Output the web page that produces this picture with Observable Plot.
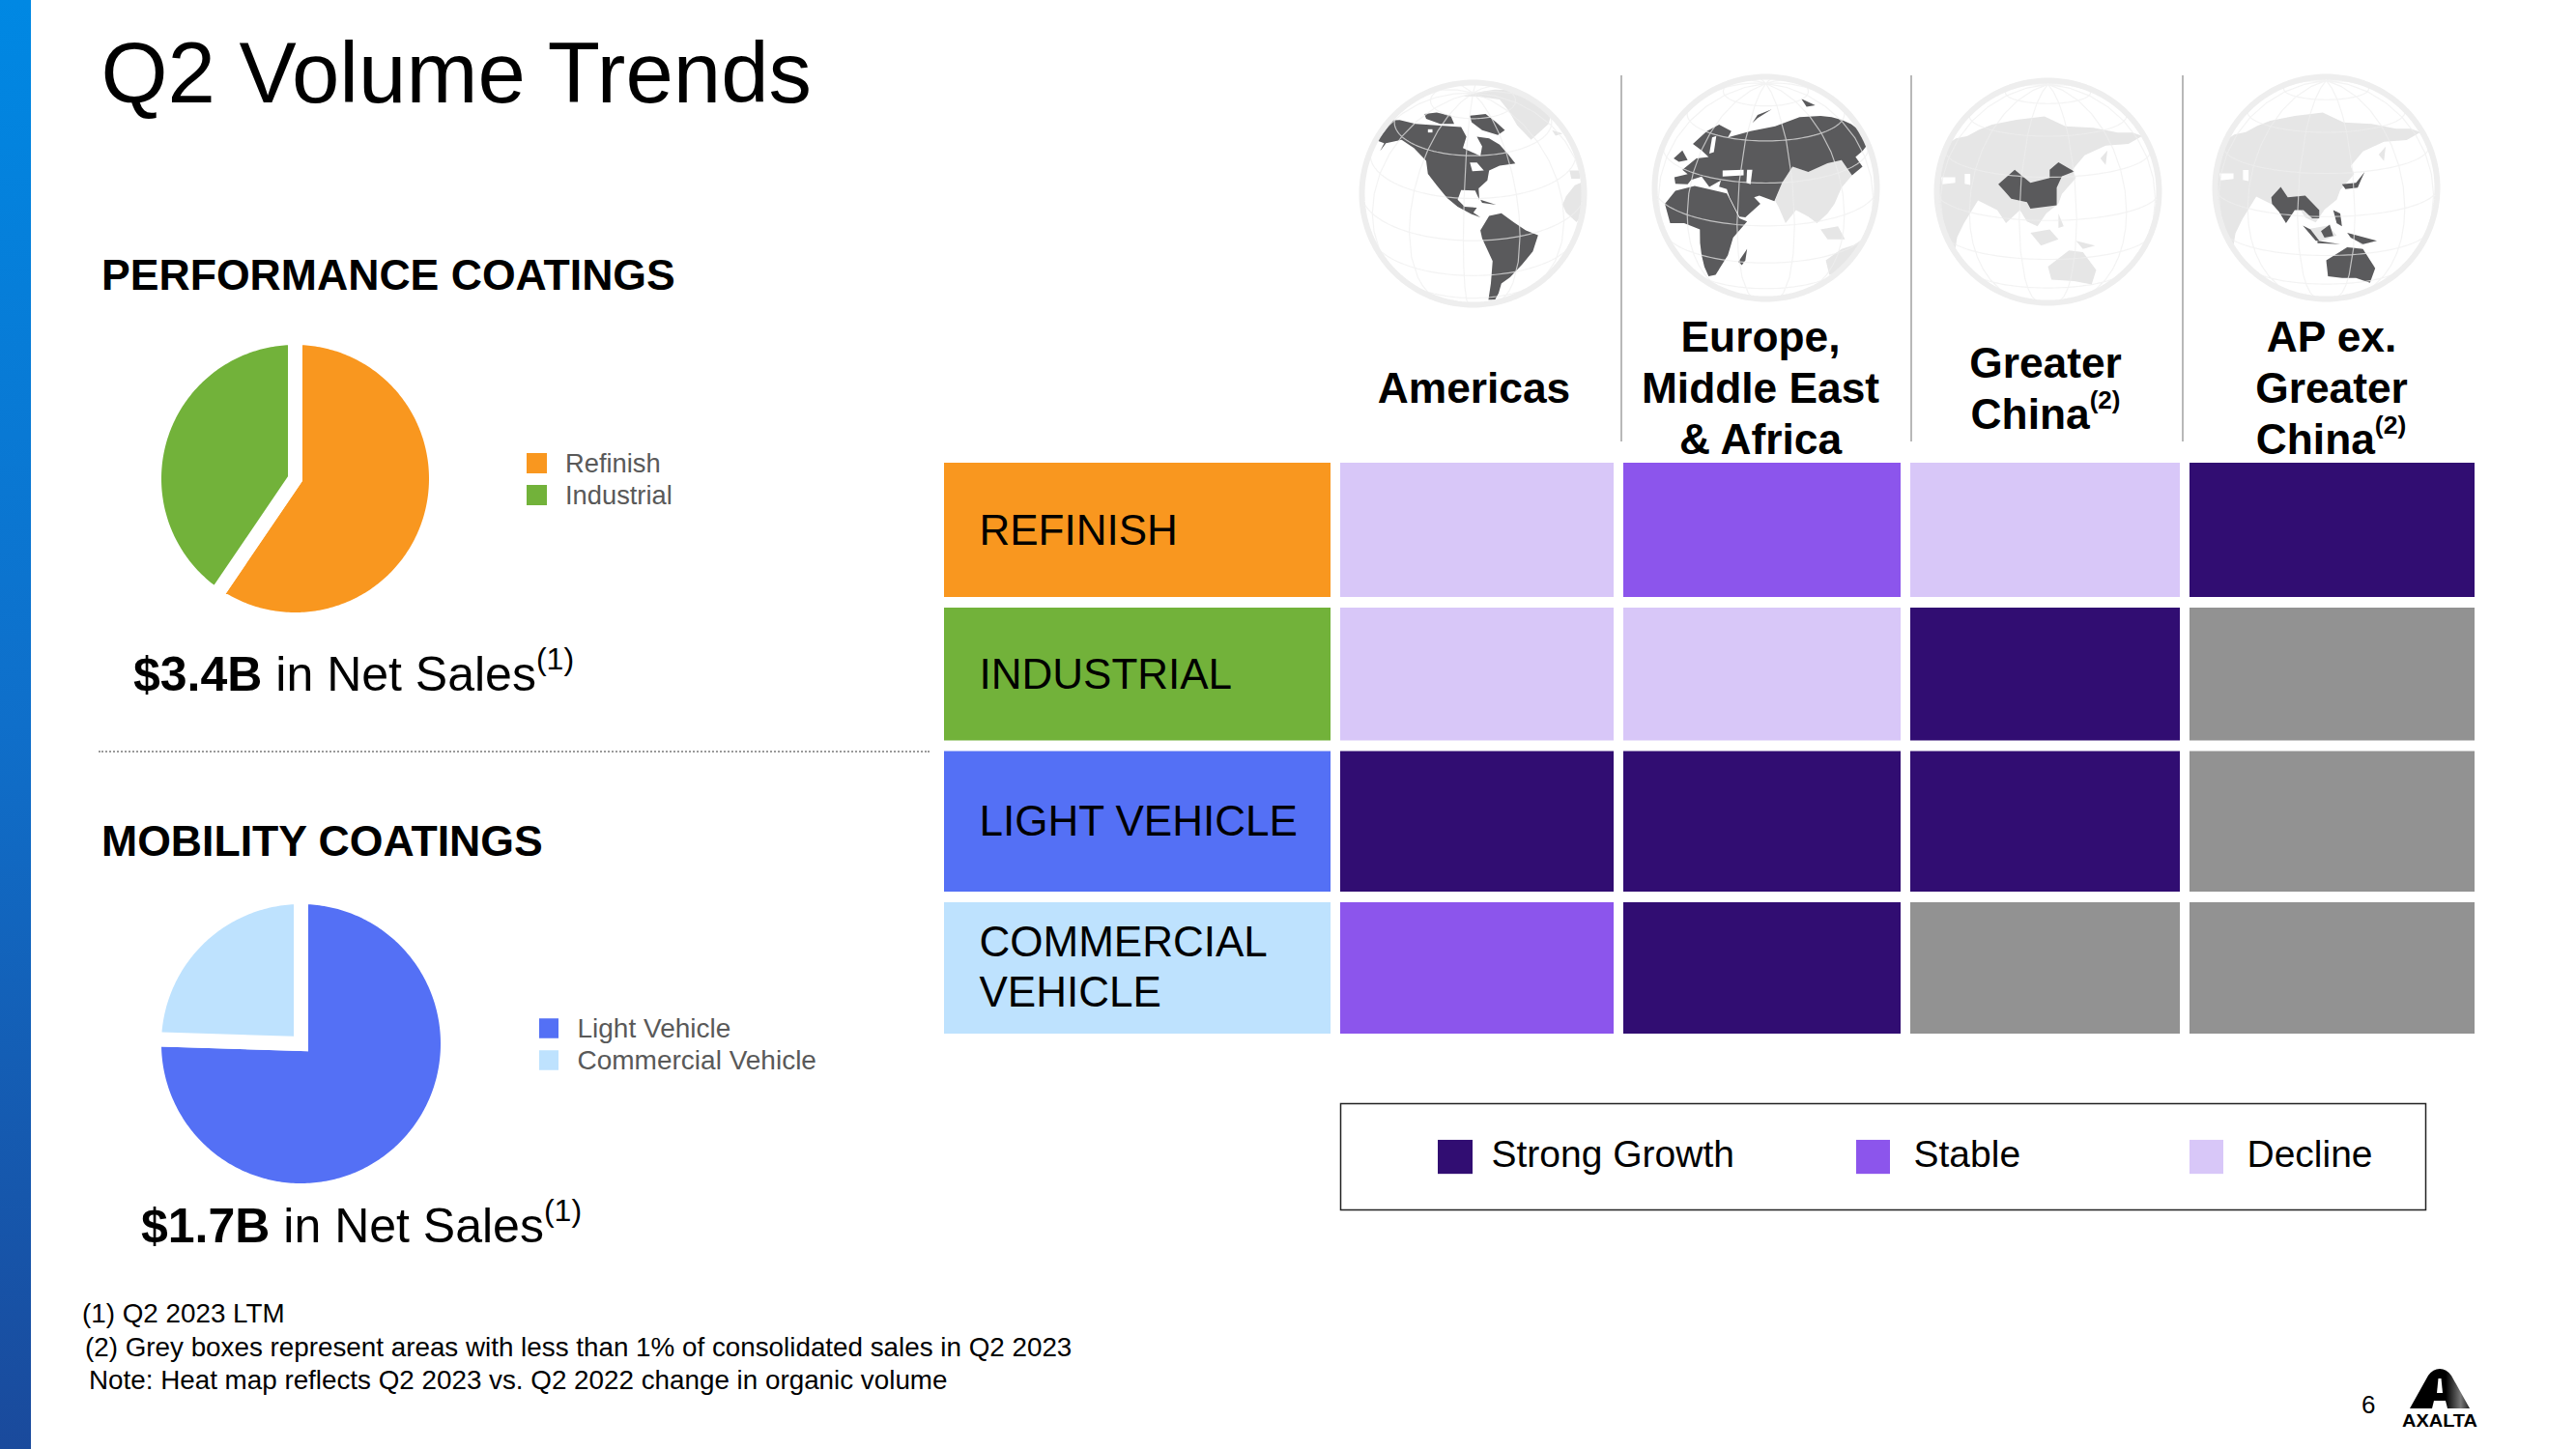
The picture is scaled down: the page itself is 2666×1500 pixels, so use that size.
<!DOCTYPE html>
<html>
<head>
<meta charset="utf-8">
<title>Q2 Volume Trends</title>
<script src="https://cdn.jsdelivr.net/npm/d3@7"></script>
<script src="https://cdn.jsdelivr.net/npm/@observablehq/plot@0.6"></script>
<style>
html,body{margin:0;padding:0;background:#fff;overflow:hidden}
body{width:2666px;height:1500px;position:relative;font-family:"Liberation Sans",Arial,sans-serif;color:#000}
.t{position:absolute;white-space:nowrap;line-height:0}
.p{position:absolute}
.p svg{display:block;background:transparent}
.sup{position:relative}
</style>
</head>
<body>
<script>
// ---------- chart data ----------
const columns = ["Americas", "Europe, Middle East & Africa", "Greater China", "AP ex. Greater China"];
const rows = ["REFINISH", "INDUSTRIAL", "LIGHT VEHICLE", "COMMERCIAL VEHICLE"];
const refinishTrend = ["Decline", "Stable", "Decline", "Strong Growth"];
const industrialTrend = ["Decline", "Decline", "Strong Growth", "Under 1%"];
const lightVehicleTrend = ["Strong Growth", "Strong Growth", "Strong Growth", "Under 1%"];
const commercialVehicleTrend = ["Stable", "Strong Growth", "Under 1%", "Under 1%"];
const trendLegend = ["Strong Growth", "Stable", "Decline"];

const performanceSegments = ["Refinish", "Industrial"];
const performanceShares = [59.5, 40.5];
const mobilitySegments = ["Light Vehicle", "Commercial Vehicle"];
const mobilityShares = [75.5, 24.5];

const footnotes = [
  "(1) Q2 2023 LTM",
  "(2) Grey boxes represent areas with less than 1% of consolidated sales in Q2 2023",
  "Note: Heat map reflects Q2 2023 vs. Q2 2022 change in organic volume"
];

// ---------- colours ----------
const trendNames = ["Strong Growth", "Stable", "Decline", "Under 1%"];
const trendColors = ["#310d72", "#8c55ec", "#d8c7f8", "#929292"];
const segmentNames = ["REFINISH", "INDUSTRIAL", "LIGHT VEHICLE", "COMMERCIAL VEHICLE"];
const segmentColors = ["#f9971f", "#72b23a", "#5470f5", "#bee2fe"];

// ---------- map outlines (picture units per globe) ----------
const americasDark = [
  [[95,255],[130,195],[210,205],[270,210],[340,215],[355,245],[345,280],[395,305],[400,275],[385,245],[420,250],[450,270],[475,300],[495,328],[450,335],[420,350],[415,380],[390,405],[392,440],[380,412],[340,410],[330,440],[350,462],[385,465],[375,480],[395,495],[370,485],[330,462],[300,435],[270,395],[245,360],[240,320],[205,280],[170,255],[125,265],[108,290],[120,265]],
  [[235,175],[270,170],[310,180],[320,205],[280,205],[240,190]],
  [[365,180],[410,175],[440,200],[465,225],[445,240],[400,225],[370,200]],
  [[395,440],[440,456],[400,450]],
  [[420,490],[455,482],[490,510],[525,535],[560,550],[545,600],[515,640],[480,680],[455,700],[437,750],[418,750],[425,700],[430,630],[400,560],[395,535]]
];
const americasLakes = [
  [[365,325],[385,325],[405,350],[372,352]],
  [[245,222],[258,222],[258,232],[245,232]]
];
const americasLight = [
  [[345,120],[400,105],[470,100],[540,125],[600,175],[590,205],[540,255],[500,210],[450,130],[420,125]],
  [[600,225],[630,235],[610,242]],
  [[650,350],[680,350],[680,375],[655,375]],
  [[640,430],[665,395],[690,385],[692,490],[670,510],[640,480],[630,455]]
];
const emeaDark = [
  [[1015,265],[1055,225],[1090,205],[1125,225],[1115,245],[1180,225],[1250,210],[1320,182],[1380,178],[1440,190],[1490,222],[1512,270],[1480,305],[1500,335],[1470,362],[1440,315],[1400,325],[1345,352],[1300,335],[1270,385],[1248,442],[1205,425],[1190,430],[1208,450],[1165,492],[1148,490],[1120,430],[1112,405],[1090,397],[1095,378],[1062,398],[1040,366],[1010,376],[1000,390],[965,388],[962,368],[1000,358],[985,345],[1025,310],[1060,305],[1040,285]],
  [[960,310],[985,285],[1000,315],[975,320]],
  [[1185,200],[1200,175],[1240,158],[1200,185]],
  [[1325,125],[1365,145],[1340,150]],
  [[935,450],[965,410],[1020,395],[1060,405],[1112,418],[1148,495],[1170,505],[1130,555],[1115,610],[1080,670],[1060,675],[1040,610],[1035,530],[990,510],[950,510]],
  [[1145,630],[1170,590],[1165,625],[1155,640]]
];
const emeaLakes = [
  [[1170,345],[1185,345],[1180,390],[1168,385]],
  [[1100,347],[1160,345],[1160,362],[1100,366]],
  [[1070,245],[1082,240],[1075,290],[1062,295]]
];
const emeaLight = [
  [[1250,440],[1270,385],[1300,335],[1345,352],[1400,325],[1440,315],[1470,362],[1440,400],[1420,450],[1400,480],[1370,510],[1345,490],[1310,470],[1280,510],[1260,460]],
  [[1380,530],[1430,520],[1450,560],[1400,560]],
  [[1395,625],[1440,590],[1500,560],[1480,620],[1430,670],[1405,670]]
];
const asiaLight = [
  [[90,255],[160,240],[230,205],[300,190],[380,180],[440,210],[520,215],[590,230],[660,240],[620,265],[555,270],[495,300],[460,345],[470,370],[430,420],[420,450],[385,480],[360,520],[330,505],[310,470],[270,510],[245,470],[190,440],[150,510],[125,590],[100,540],[70,470],[68,400],[72,340]],
  [[540,310],[560,285],[555,330]],
  [[340,540],[395,530],[420,560],[370,580]],
  [[420,480],[435,520],[420,525]],
  [[470,565],[525,580],[490,590]],
  [[390,645],[450,595],[490,600],[528,655],[515,700],[465,690],[400,685]]
];
const asiaLakes = [
  [[152,358],[168,358],[168,392],[152,388]],
  [[85,368],[125,368],[125,385],[88,390]]
];
const chinaDark = [
  [[248,390],[295,345],[340,385],[395,370],[395,345],[420,322],[465,350],[430,365],[415,400],[415,455],[340,465],[330,445],[285,435],[265,410]]
];
const apDark = [
  [[1038,430],[1065,398],[1085,430],[1135,425],[1175,470],[1175,495],[1155,495],[1130,470],[1105,470],[1080,510],[1060,475],[1040,450]],
  [[1240,390],[1280,385],[1305,352],[1295,375],[1285,400],[1250,405]],
  [[1128,518],[1150,530],[1175,565],[1165,565]],
  [[1170,565],[1235,575],[1170,572]],
  [[1180,535],[1205,515],[1215,550],[1190,555]],
  [[1215,470],[1235,480],[1240,520],[1225,510]],
  [[1255,540],[1340,565],[1300,575],[1265,555]],
  [[1195,625],[1255,585],[1300,590],[1335,650],[1320,695],[1280,680],[1200,675]]
];

// ---------- helpers ----------
const page = document.body;
function text(x, baseline, size, html, extra = "") {
  const d = document.createElement("div");
  d.className = "t";
  d.style.cssText = `left:${x}px;top:${baseline - 0.3465 * size}px;font-size:${size}px;${extra}`;
  d.innerHTML = html;
  page.appendChild(d);
  return d;
}
function centered(x, baseline, size, html, extra = "") {
  return text(x, baseline, size, html, `transform:translateX(-50%);${extra}`);
}
const sup = (s, size, lift) => `<span class="sup" style="font-size:${size}px;top:-${lift}px">${s}</span>`;
function place(node, x, y) {
  const d = document.createElement("div");
  d.className = "p";
  d.style.left = x + "px";
  d.style.top = y + "px";
  d.appendChild(node);
  page.appendChild(d);
}
function box(css) {
  const d = document.createElement("div");
  d.style.cssText = "position:absolute;" + css;
  page.appendChild(d);
}
const plotStyle = {background: "transparent", fontFamily: "'Liberation Sans',Arial,sans-serif", overflow: "visible"};

// ---------- slide furniture ----------
box("left:0;top:0;width:32px;height:1500px;background:linear-gradient(#0088e3,#0f6fca 50%,#1a4a9c)");
text(104.5, 106.5, 88.8, "Q2 Volume Trends");
text(105, 300, 44.6, "PERFORMANCE COATINGS", "font-weight:bold");
text(105, 886.5, 44.6, "MOBILITY COATINGS", "font-weight:bold");
text(138, 715, 50, `<b>$3.4B</b> in Net Sales${sup("(1)", 32, 22)}`);
text(146, 1286, 50, `<b>$1.7B</b> in Net Sales${sup("(1)", 32, 22)}`);
box("left:102px;top:777px;width:860px;border-top:2px dotted #9a9a9a");
text(85, 1369.5, 27.8, footnotes[0]);
text(88, 1404.5, 27.8, footnotes[1]);
text(92, 1438.5, 27.8, footnotes[2]);
text(2444, 1463, 26, "6");

// ---------- pies ----------
function pieOutline(names, values) {
  const pts = [];
  d3.pie().sort(null)(values).forEach((s, i) => {
    pts.push({name: names[i], x: 0, y: 0});
    const steps = Math.ceil((s.endAngle - s.startAngle) * 60);
    for (let k = 0; k <= steps; k++) {
      const a = s.startAngle + (s.endAngle - s.startAngle) * k / steps;
      pts.push({name: names[i], x: Math.sin(a), y: Math.cos(a)});
    }
  });
  return pts;
}
function pie(names, values, colors, radius) {
  const size = 2 * radius + 8;
  return Plot.plot({
    width: size, height: size, margin: 0, style: plotStyle,
    x: {axis: null, domain: [-1, 1], range: [4, size - 4]},
    y: {axis: null, domain: [-1, 1], range: [size - 4, 4]},
    color: {domain: names, range: colors},
    marks: [
      Plot.line(pieOutline(names, values), {
        x: "x", y: "y", z: "name", fill: "name", stroke: "#fff", strokeWidth: 15,
        curve: "linear-closed", strokeLinejoin: "miter", strokeMiterlimit: 10
      })
    ]
  });
}
place(pie(performanceSegments, performanceShares, segmentColors.slice(0, 2), 146), 305 - 150, 495 - 150);
place(pie(mobilitySegments, mobilityShares, segmentColors.slice(2), 152), 311 - 156, 1079.5 - 156);

function pieLegend(names, colors, size, sw, swh, gap, rowStep) {
  const h = rowStep * names.length;
  return Plot.plot({
    width: 420, height: h, margin: 0, style: plotStyle,
    x: {axis: null, domain: [0, 420], range: [0, 420]},
    y: {axis: null, type: "band", domain: names, range: [0, h], padding: 0},
    color: {domain: names, range: colors},
    marks: [
      Plot.cell(names, {y: d => d, fill: d => d, insetRight: 420 - sw, insetTop: (rowStep - swh) / 2, insetBottom: (rowStep - swh) / 2}),
      Plot.text(names, {x: () => gap, y: d => d, text: d => d, textAnchor: "start", fontSize: size, fill: "#595959"})
    ]
  });
}
place(pieLegend(performanceSegments, segmentColors.slice(0, 2), 27.3, 21, 21, 39.5, 33), 545, 463);
place(pieLegend(mobilitySegments, segmentColors.slice(2), 28, 20, 21, 39, 33.5), 558, 1046.5);

// ---------- column header ----------
const headerRuleX = [1677, 1977, 2258];
headerRuleX.forEach(x => box(`left:${x}px;top:78px;width:2px;height:379px;background:#b8b8b8`));
const headBold = "font-weight:bold";
const headSize = 44.3;
centered(1525.5, 417, headSize, "Americas", headBold);
centered(1822, 364, headSize, "Europe,", headBold);
centered(1822, 417, headSize, "Middle East", headBold);
centered(1822, 470, headSize, "&amp; Africa", headBold);
centered(2117, 391, headSize, "Greater", headBold);
centered(2117, 444, headSize, `China${sup("(2)", 26, 21)}`, headBold);
centered(2413, 364, headSize, "AP ex.", headBold);
centered(2413, 417, headSize, "Greater", headBold);
centered(2412.5, 470, headSize, `China${sup("(2)", 26.5, 21)}`, headBold);

// ---------- globes ----------
const GLOBE = 250, GLOBE_R = 115;
function globe(frame, rotate, layers) {
  const [cx, cy] = frame;
  const unproject = d3.geoOrthographic().rotate(rotate).scale(1).translate([0, 0]);
  const toPolygon = (ring) => {
    const pts = ring.map(([zx, zy]) => {
      let u = (zx - cx) / 326 * 118 / GLOBE_R, v = (zy - cy) / 353 * 118 / GLOBE_R;
      const l = Math.hypot(u, v);
      if (l > 0.995) { u *= 0.995 / l; v *= 0.995 / l; }
      return unproject.invert([u, v]);
    });
    pts.push(pts[0]);
    const poly = {type: "Polygon", coordinates: [pts]};
    if (d3.geoArea(poly) > 2 * Math.PI) poly.coordinates[0].reverse();
    return poly;
  };
  return Plot.plot({
    width: GLOBE, height: GLOBE, margin: 0, style: plotStyle,
    projection: ({width, height}) => d3.geoOrthographic().rotate(rotate).scale(GLOBE_R).translate([width / 2, height / 2]),
    marks: [
      ...layers.map(([rings, fill]) => Plot.geo(rings.map(toPolygon), {fill})),
      Plot.geo([d3.geoGraticule().step([30, 22.5])()], {stroke: "#eeeeee", strokeWidth: 1.2, strokeOpacity: 0.7}),
      Plot.sphere({stroke: "#eeeeee", strokeWidth: 6})
    ]
  });
}
const land = "#e6e6e6", dark = "#5a5a5c";
place(globe([374, 421.5], [85, -25], [[americasLight, land], [americasDark, dark], [americasLakes, "#fff"]]), 1524 - 125, 200 - 125);
place(globe([1223.5, 401], [-45, -20], [[emeaLight, land], [emeaDark, dark], [emeaLakes, "#fff"]]), 1827 - 125, 194 - 125);
place(globe([390, 413], [-105, -15], [[asiaLight, land], [asiaLakes, "#fff"], [chinaDark, dark]]), 2119 - 125, 198 - 125);
// the fourth globe shows the same picture as the third, shifted in the zoomed frame
const asiaLightShifted = asiaLight.map(r => r.map(([x, y]) => [x + 805, y - 12]));
const asiaLakesShifted = asiaLakes.map(r => r.map(([x, y]) => [x + 805, y - 12]));
place(globe([1195, 401], [-105, -15], [[asiaLightShifted, land], [asiaLakesShifted, "#fff"], [apDark, dark]]), 2407 - 125, 194 - 125);

// ---------- heat map ----------
const columnEdges = d3.scaleLinear([0, 1, 2, 3, 4, 5], [0, 410, 703, 1000, 1289, 1594]);
const rowEdges = d3.scaleLinear([0, 1, 2, 3, 4], [0, 150, 298.5, 455, 602]);
const trendRows = [refinishTrend, industrialTrend, lightVehicleTrend, commercialVehicleTrend];
const heatCells = rows.flatMap((row, r) => columns.map((column, c) => ({row: r, col: c + 1, trend: trendRows[r][c]})));
const rowCells = rows.map((row, r) => ({row: r, name: row}));
const rowLabelLines = {"COMMERCIAL VEHICLE": "COMMERCIAL\nVEHICLE"};
const labelLift = {"COMMERCIAL VEHICLE": -8.5};
const heat = Plot.plot({
  width: 1594, height: 602, margin: 0, style: plotStyle,
  x: {axis: null, domain: [0, 1594], range: [0, 1594], transform: columnEdges},
  y: {axis: null, domain: [0, 602], range: [0, 602], transform: rowEdges},
  color: {domain: [...segmentNames, ...trendNames], range: [...segmentColors, ...trendColors]},
  marks: [
    Plot.rect(rowCells, {x1: () => 0, x2: () => 1, y1: "row", y2: d => d.row + 1, fill: "name", insetRight: 10, insetBottom: 11}),
    Plot.rect(heatCells, {x1: "col", x2: d => d.col + 1, y1: "row", y2: d => d.row + 1, fill: "trend", insetRight: 10, insetBottom: 11}),
    Plot.text(rowCells.filter(d => !labelLift[d.name]), {
      x: () => 0, y: d => d.row + 0.5, text: "name",
      textAnchor: "start", lineAnchor: "middle", dx: 36, dy: -5, fontSize: 44, fill: "#000"
    }),
    Plot.text(rowCells.filter(d => labelLift[d.name]), {
      x: () => 0, y: d => d.row + 0.5, text: d => rowLabelLines[d.name],
      textAnchor: "start", lineAnchor: "middle", dx: 36, dy: -8.5, fontSize: 44, lineHeight: 1.17, fill: "#000"
    })
  ]
});
place(heat, 977, 479);

// ---------- trend legend ----------
const keyEdges = d3.scaleLinear(d3.range(9), [101, 137, 156, 534, 569, 593, 879, 914, 938]);
const legendRows = trendLegend.map((name, i) => ({name, i}));
const trendKey = Plot.plot({
  width: 1123, height: 110, margin: 0, style: plotStyle,
  x: {axis: null, domain: [0, 1123], range: [0, 1123], transform: keyEdges},
  y: {axis: null, domain: [0, 1], range: [0, 110]},
  color: {domain: trendNames, range: trendColors},
  marks: [
    Plot.frame({stroke: "#222", strokeWidth: 1.5}),
    Plot.rect(legendRows, {x1: d => 3 * d.i, x2: d => 3 * d.i + 1, y1: () => 0.345, y2: () => 0.665, fill: "name"}),
    Plot.text(legendRows, {x: d => 3 * d.i + 2, y: () => 0.485, text: "name", textAnchor: "start", fontSize: 39, fill: "#000"})
  ]
});
place(trendKey, 1387, 1142);

// ---------- logo ----------
const logo = document.createElementNS("http://www.w3.org/2000/svg", "svg");
logo.setAttribute("width", 90);
logo.setAttribute("height", 70);
logo.style.cssText = "position:absolute;left:2480px;top:1412px;overflow:visible";
logo.innerHTML = `
  <defs><linearGradient id="lg" x1="0" x2="1"><stop offset="0.6" stop-color="#000"/><stop offset="0.85" stop-color="#777"/><stop offset="1" stop-color="#222"/></linearGradient></defs>
  <path d="M14 46 L33 12 Q38 5 45 5 Q52 5 57 12 L76 46 L53 46 L51 38 L39 38 L37 46 Z" fill="url(#lg)"/>
  <path d="M43.5 15 L46.5 15 L48 30 L42 30 Z" fill="#fff"/>
  <text x="6" y="65" font-family="Liberation Sans" font-weight="bold" font-size="18" textLength="78" lengthAdjust="spacingAndGlyphs">AXALTA</text>`;
page.appendChild(logo);
</script>
</body>
</html>
